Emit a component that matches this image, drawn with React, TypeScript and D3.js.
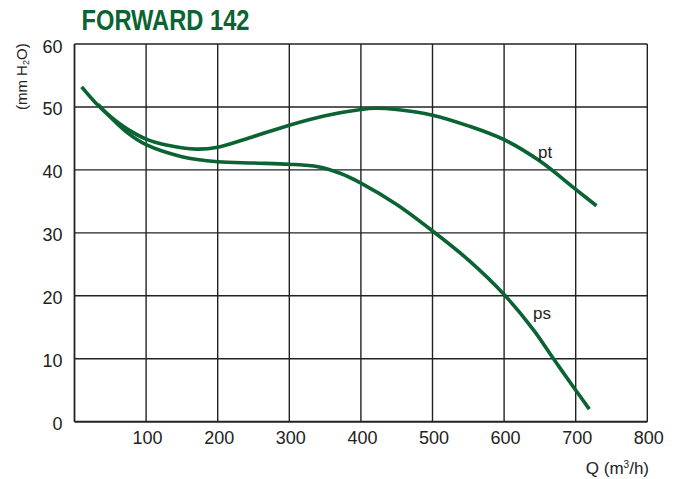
import React from 'react';
import * as d3 from 'd3';

// pt curve (total pressure)
const ptQ = [10, 30, 50, 75, 100, 130, 170, 200, 250, 300, 350, 400, 420, 450, 500, 550, 600, 650, 700, 729];
const ptV = [53.2, 50.6, 48.5, 46.4, 44.9, 43.9, 43.3, 43.6, 45.3, 47.1, 48.6, 49.6, 49.8, 49.6, 48.7, 47.0, 44.8, 41.4, 36.9, 34.3];

// ps curve (static pressure)
const psQ = [33, 50, 75, 100, 150, 200, 250, 300, 340, 370, 400, 450, 500, 550, 600, 641, 669, 700, 719];
const psV = [50.4, 48.4, 45.8, 44.0, 42.1, 41.3, 41.1, 40.9, 40.5, 39.5, 37.9, 34.5, 30.3, 25.7, 20.2, 14.6, 10.0, 5.0, 2.0];

const xTicks = [100, 200, 300, 400, 500, 600, 700, 800];
const yTicks = [0, 10, 20, 30, 40, 50, 60];

const GREEN = '#0a6332';
const GRID = '#222';
const FONT = '"Liberation Sans", Arial, sans-serif';

const App = () => {
  const width = 680;
  const height = 479;
  const x = d3.scaleLinear().domain([0, 800]).range([74.5, 647.3]);
  const y = d3.scaleLinear().domain([0, 60]).range([421.7, 44]);

  const line = d3
    .line<[number, number]>()
    .x(d => x(d[0]))
    .y(d => y(d[1]))
    .curve(d3.curveCatmullRom.alpha(0.5));

  const ptPath = line(ptQ.map((q, i) => [q, ptV[i]] as [number, number])) || '';
  const psPath = line(psQ.map((q, i) => [q, psV[i]] as [number, number])) || '';

  return (
    <svg
      width={width}
      height={height}
      style={{ position: 'absolute', left: 0, top: 0, background: '#fff' }}
      fontFamily={FONT}
    >
      <text
        x={81.5}
        y={29.5}
        fill={GREEN}
        fontFamily='"Liberation Sans Narrow", "Arial Narrow", "Liberation Sans", sans-serif'
        fontWeight="bold"
        fontSize={29}
        textLength={168}
        lengthAdjust="spacingAndGlyphs"
      >
        FORWARD 142
      </text>

      {/* grid */}
      {xTicks.map(t => (
        <line key={'gx' + t} x1={x(t)} x2={x(t)} y1={y(0)} y2={y(60)} stroke={GRID} strokeWidth={1.4} />
      ))}
      {yTicks.map(t => (
        <line key={'gy' + t} x1={x(0)} x2={x(800)} y1={y(t)} y2={y(t)} stroke={GRID} strokeWidth={1.4} />
      ))}
      <line x1={x(0)} x2={x(0)} y1={y(0)} y2={y(60)} stroke={GRID} strokeWidth={1.8} />
      <line x1={x(0)} x2={x(800)} y1={y(0)} y2={y(0)} stroke={GRID} strokeWidth={1.8} />

      {/* tick labels */}
      {yTicks.map(t => (
        <text key={'ty' + t} x={62.5} y={y(t) + 8.5} textAnchor="end" fontSize={18} fill="#222">
          {t}
        </text>
      ))}
      {xTicks.map(t => (
        <text key={'tx' + t} x={x(t) + 1.5} y={444} textAnchor="middle" fontSize={18} fill="#222">
          {t}
        </text>
      ))}

      {/* axis titles */}
      <text transform="translate(26.5,76.7) rotate(-90)" textAnchor="middle" fontSize={15} fill="#222">
        (mm H<tspan fontSize={9} dy={2}>2</tspan>
        <tspan dy={-2}>O)</tspan>
      </text>
      <text x={649} y={474} textAnchor="end" fontSize={17} fill="#222">
        Q (m<tspan fontSize={10} dy={-6}>3</tspan>
        <tspan dy={6}>/h)</tspan>
      </text>

      {/* curves */}
      <path d={ptPath} fill="none" stroke={GREEN} strokeWidth={3.6} strokeLinecap="butt" />
      <path d={psPath} fill="none" stroke={GREEN} strokeWidth={3.6} strokeLinecap="butt" />

      <text x={538} y={157.5} fontSize={17} fill="#222">pt</text>
      <text x={533} y={319} fontSize={17} fill="#222">ps</text>
    </svg>
  );
};

export default App;
